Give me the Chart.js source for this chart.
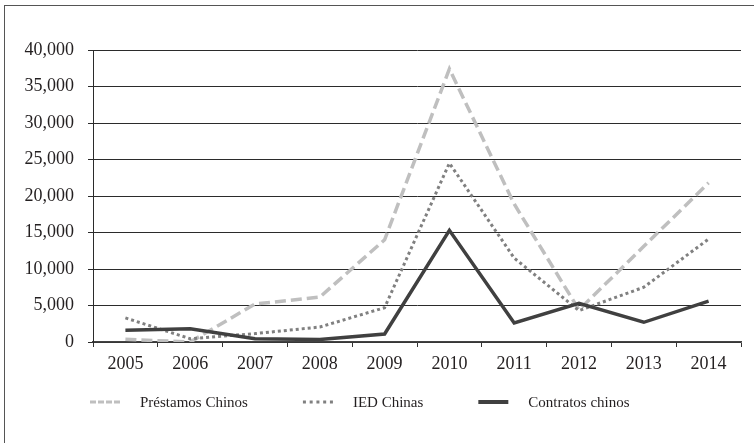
<!DOCTYPE html>
<html>
<head>
<meta charset="utf-8">
<script src="https://cdn.jsdelivr.net/npm/chart.js@4.4.0/dist/chart.umd.min.js"></script>
<style>
  html, body { margin: 0; padding: 0; background: #fff; }
  #marco { position: relative; width: 754px; height: 443px; overflow: hidden; }
  #borde { position: absolute; left: 4px; top: 5px; width: 900px; height: 600px;
           border-left: 1.5px solid #555; border-top: 1.5px solid #555; }
  #grafico { position: absolute; left: 0; top: 0; }
</style>
</head>
<body>
<div id="marco">
  <div id="borde"></div>
  <canvas id="grafico" width="754" height="443"></canvas>
</div>
<script>
// años y series (millones de US$)
const anios = ['2005', '2006', '2007', '2008', '2009', '2010', '2011', '2012', '2013', '2014'];
const prestamosChinos = [370, 0, 5200, 6150, 14000, 37400, 18900, 4400, 13100, 21800];
const iedChinas = [3300, 450, 1150, 2050, 4700, 24500, 11500, 4300, 7500, 14100];
const contratosChinos = [1600, 1800, 450, 350, 1100, 15300, 2600, 5300, 2700, 5600];
const marcasEje = [0, 5000, 10000, 15000, 20000, 25000, 30000, 35000, 40000];

const fuente = '"Liberation Serif", "Times New Roman", serif';
const tinta = '#231f20';

// leyenda dibujada a mano debajo del eje
const leyendaInferior = {
  id: 'leyendaInferior',
  afterDraw(chart) {
    const ctx = chart.ctx;
    const yLinea = 402;
    let x = chart.chartArea.left - 3;
    ctx.save();
    ctx.font = '15px ' + fuente;
    ctx.textBaseline = 'alphabetic';
    chart.data.datasets.forEach(ds => {
      ctx.beginPath();
      ctx.strokeStyle = ds.borderColor;
      ctx.lineWidth = ds.anchoLeyenda;
      ctx.lineCap = 'butt';
      ctx.setLineDash(ds.guionLeyenda);
      ctx.moveTo(x, yLinea);
      ctx.lineTo(x + 30, yLinea);
      ctx.stroke();
      ctx.setLineDash([]);
      ctx.fillStyle = tinta;
      ctx.fillText(ds.label, x + 50, 407);
      x += 50 + ctx.measureText(ds.label).width + 55;
    });
    ctx.restore();
  }
};

new Chart(document.getElementById('grafico'), {
  type: 'line',
  data: {
    labels: anios,
    datasets: [{
      label: 'Préstamos Chinos',
      data: prestamosChinos,
      borderColor: '#bfbfbf',
      borderWidth: 3.5,
      borderDash: [11, 5],
      anchoLeyenda: 3,
      guionLeyenda: [6, 2],
      order: 2
    }, {
      label: 'IED Chinas',
      data: iedChinas,
      borderColor: '#808080',
      borderWidth: 3,
      borderDash: [3, 3],
      anchoLeyenda: 3,
      guionLeyenda: [3, 3.75],
      order: 1
    }, {
      label: 'Contratos chinos',
      data: contratosChinos,
      borderColor: '#404040',
      borderWidth: 3.5,
      borderDash: [],
      anchoLeyenda: 4,
      guionLeyenda: [],
      order: 0
    }]
  },
  options: {
    responsive: false,
    animation: false,
    layout: { padding: { left: 0, top: 50, right: 13, bottom: 61 } },
    elements: {
      point: { radius: 0, hoverRadius: 0 },
      line: { tension: 0, fill: false }
    },
    plugins: {
      legend: { display: false },
      tooltip: { enabled: false }
    },
    scales: {
      x: {
        offset: true,
        grid: { offset: true, drawOnChartArea: false, drawTicks: true, tickLength: 5, color: '#333', lineWidth: 1 },
        border: { color: '#444', width: 1.5 },
        ticks: { color: tinta, padding: 6, font: { family: fuente, size: 18 }, maxRotation: 0 },
        afterFit(scale) { scale.height = 40; }
      },
      y: {
        min: 0,
        max: 40000,
        afterBuildTicks(scale) { scale.ticks = marcasEje.map(v => ({ value: v })); },
        grid: { color: '#2b2b2b', lineWidth: 1, tickLength: 5, drawTicks: true },
        border: { color: '#2b2b2b', width: 1 },
        ticks: {
          color: tinta,
          padding: 14,
          font: { family: fuente, size: 18 },
          callback: v => v.toLocaleString('en-US')
        },
        afterFit(scale) { scale.width = 93; }
      }
    }
  },
  plugins: [leyendaInferior]
});
</script>
</body>
</html>
